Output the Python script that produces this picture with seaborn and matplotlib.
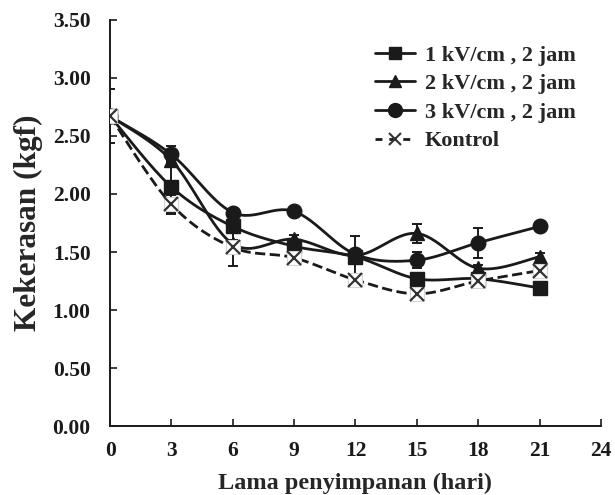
import numpy as np
import pandas as pd
import matplotlib
matplotlib.use("Agg")
import matplotlib.pyplot as plt
from matplotlib.lines import Line2D
import seaborn as sns

days = [0, 3, 6, 9, 12, 15, 18, 21]
kv1 = [2.67, 2.06, 1.72, 1.55, 1.46, 1.27, 1.27, 1.19]
kv2 = [2.67, 2.29, 1.57, 1.61, 1.47, 1.66, 1.36, 1.46]
kv3 = [2.67, 2.34, 1.84, 1.85, 1.48, 1.43, 1.58, 1.72]
kontrol = [2.67, 1.91, 1.54, 1.45, 1.26, 1.14, 1.25, 1.34]

err1 = [0.23, 0.22, 0.03, 0.03, 0.03, 0.02, 0.02, 0.03]
err2 = [0.02, 0.04, 0.03, 0.04, 0.17, 0.08, 0.03, 0.03]
err3 = [0.02, 0.07, 0.03, 0.03, 0.03, 0.07, 0.13, 0.04]
errk = [0.02, 0.08, 0.16, 0.03, 0.03, 0.02, 0.02, 0.02]

labels = ["1 kV/cm , 2 jam", "2 kV/cm , 2 jam", "3 kV/cm , 2 jam", "Kontrol"]
xticks = [0, 3, 6, 9, 12, 15, 18, 21, 24]
yticks = [0.0, 0.5, 1.0, 1.5, 2.0, 2.5, 3.0, 3.5]

sns.set_theme(style="ticks")
plt.rcParams["font.family"] = ["Liberation Serif", "DejaVu Serif"]
plt.rcParams["font.weight"] = "bold"


def smooth(x, y, n=30):
    """Excel-style smoothed line (Catmull-Rom Bezier through the points)."""
    P = np.column_stack([x, y]).astype(float)
    ext = np.vstack([P[0], P, P[-1]])
    out = []
    t = np.linspace(0, 1, n)[:, None]
    for i in range(len(P) - 1):
        p0, p1, p2, p3 = ext[i], ext[i + 1], ext[i + 2], ext[i + 3]
        c1 = p1 + (p2 - p0) / 6.0
        c2 = p2 - (p3 - p1) / 6.0
        seg = ((1 - t) ** 3) * p1 + 3 * ((1 - t) ** 2) * t * c1 + 3 * (1 - t) * t ** 2 * c2 + t ** 3 * p2
        out.append(seg if i == 0 else seg[1:])
    out = np.vstack(out)
    return out[:, 0], out[:, 1]


fig = plt.figure(figsize=(6.15, 4.95), dpi=100)
ax = fig.add_axes([0.179, 0.139, 0.798, 0.821])

black = "#1a1a1a"
gray = "#333333"
series = [
    (kv1, err1, "s", 9.5, "-", black),
    (kv2, err2, "^", 9.5, "-", black),
    (kv3, err3, "o", 10.5, "-", black),
    (kontrol, errk, "x", 9, "--", gray),
]

for vals, errs, m, ms, ls, col in series:
    sx, sy = smooth(days, vals)
    df = pd.DataFrame({"x": sx, "y": sy})
    sns.lineplot(data=df, x="x", y="y", ax=ax, sort=False, estimator=None,
                 color=black, lw=2.0, linestyle=ls, zorder=2)

for vals, errs, m, ms, ls, col in series:
    ax.errorbar(days, vals, yerr=errs, fmt="none", ecolor=black, elinewidth=1.4,
                capsize=3.5, capthick=1.4, zorder=3)
    if m == "x":
        ax.plot(days, vals, ls="none", marker="s", ms=9.5, mfc="white",
                mec="#d5d5d5", mew=0.8, zorder=4)
        ax.plot(days, vals, ls="none", marker="x", ms=9.5, mec=gray, mew=1.6, zorder=5)
    else:
        ax.plot(days, vals, ls="none", marker=m, ms=ms, mfc=black, mec=black, zorder=4)

ax.set_xlim(0, 24)
ax.set_ylim(0, 3.5)
ax.set_xticks(xticks)
ax.set_yticks(yticks)
ax.set_yticklabels([f"{v:.2f}" for v in yticks])
ax.tick_params(direction="in", length=5, width=1.2, colors=black, labelsize=15.5)
ax.tick_params(axis="y", pad=14)
ax.tick_params(axis="x", pad=11)
for lab in ax.get_xticklabels() + ax.get_yticklabels():
    lab.set_fontweight("bold")
for sp in ["top", "right"]:
    ax.spines[sp].set_visible(False)
for sp in ["left", "bottom"]:
    ax.spines[sp].set_color(black)
    ax.spines[sp].set_linewidth(1.4)

ax.set_xlabel("Lama penyimpanan (hari)", fontsize=17.5, fontweight="bold", labelpad=8)
ax.set_ylabel("Kekerasan (kgf)", fontsize=22.5, fontweight="bold", labelpad=7)

handles = [
    Line2D([], [], color=black, lw=2.0, marker="s", ms=9),
    Line2D([], [], color=black, lw=2.0, marker="^", ms=9),
    Line2D([], [], color=black, lw=2.0, marker="o", ms=10),
    Line2D([], [], color=black, lw=2.0, ls=(0, (2.5, 2.5)), marker="x", ms=8.5, mec=gray, mew=1.5),
]
leg = ax.legend(handles, labels, loc="upper left", bbox_to_anchor=(0.499, 0.987),
                frameon=False, prop={"family": "Liberation Serif", "weight": "bold", "size": 16},
                handlelength=1.8, handletextpad=0.45, labelspacing=0.36)

fig.savefig("out.png", dpi=100)
